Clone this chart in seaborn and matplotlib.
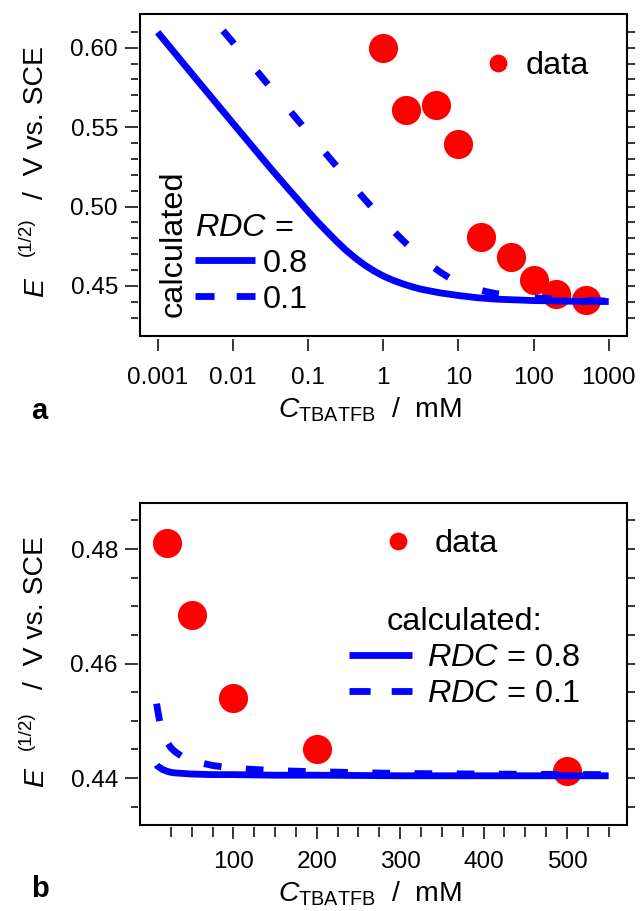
import matplotlib
matplotlib.use("Agg")
import matplotlib.pyplot as plt
import seaborn as sns
from matplotlib.lines import Line2D
from matplotlib.patches import Rectangle
from matplotlib.ticker import NullLocator

# ---------------- data ----------------
conc_data = [1, 2, 5, 10, 20, 50, 100, 200, 500]
e_data = [0.6000, 0.5608, 0.5641, 0.5392, 0.4811, 0.4685, 0.4540, 0.4451, 0.4413]

conc_calc_08 = [0.001, 0.00316, 0.01, 0.0178, 0.0316, 0.0562, 0.1, 0.133, 0.178, 0.237,
                0.316, 0.422, 0.562, 0.750, 1.0, 1.33, 1.78, 2.37, 3.16, 5.62,
                10.0, 17.8, 31.6, 100.0, 316.0, 1000.0]
e_calc_08 = [0.6097, 0.5810, 0.5525, 0.5383, 0.5242, 0.5105, 0.4970, 0.4905, 0.4843, 0.4783,
             0.4727, 0.4677, 0.4633, 0.4595, 0.4563, 0.4537, 0.4515, 0.4496, 0.4480, 0.4457,
             0.4440, 0.4426, 0.4417, 0.4408, 0.4404, 0.4402]

conc_calc_01 = [0.0074, 0.01, 0.0178, 0.0316, 0.0562, 0.1, 0.178, 0.316, 0.562, 1.0,
                1.33, 1.78, 2.37, 3.16, 4.22, 5.62, 7.50, 10.0, 13.3, 17.8,
                23.7, 31.6, 56.2, 100.0, 316.0, 1000.0]
e_calc_01 = [0.6107, 0.6034, 0.5892, 0.5750, 0.5608, 0.5467, 0.5326, 0.5186, 0.5048, 0.4915,
             0.4852, 0.4792, 0.4735, 0.4682, 0.4634, 0.4590, 0.4552, 0.4523, 0.4498, 0.4479,
             0.4464, 0.4452, 0.4436, 0.4425, 0.4412, 0.4405]

conc_b = [8, 9, 10, 12, 15, 20, 25, 30, 40, 50, 75, 100, 150, 200, 300, 400, 550]
e_b_08 = [0.4423, 0.4421, 0.4420, 0.4418, 0.4415, 0.4412, 0.4410, 0.4409, 0.4408, 0.4407,
          0.4406, 0.4406, 0.4405, 0.4405, 0.4404, 0.4404, 0.4404]
e_b_01 = [0.4530, 0.4520, 0.4512, 0.4496, 0.4481, 0.4464, 0.4453, 0.4446, 0.4436, 0.4430,
          0.4422, 0.4417, 0.4413, 0.4411, 0.4408, 0.4407, 0.4406]

xticks_a = [0.001, 0.01, 0.1, 1, 10, 100, 1000]
xticklabels_a = ["0.001", "0.01", "0.1", "1", "10", "100", "1000"]
yticks_a = [0.45, 0.50, 0.55, 0.60]
yticklabels_a = ["0.45", "0.50", "0.55", "0.60"]
yminor_a = [0.43, 0.44, 0.46, 0.47, 0.48, 0.49, 0.51, 0.52, 0.53, 0.54, 0.56, 0.57, 0.58, 0.59, 0.61]

xticks_b = [100, 200, 300, 400, 500]
xticklabels_b = ["100", "200", "300", "400", "500"]
xminor_b = [25, 50, 75, 125, 150, 175, 225, 250, 275, 325, 350, 375, 425, 450, 475, 525, 550]
yticks_b = [0.44, 0.46, 0.48]
yticklabels_b = ["0.44", "0.46", "0.48"]
yminor_b = [0.435, 0.445, 0.45, 0.455, 0.465, 0.47, 0.475, 0.485]

# ---------------- style ----------------
sns.set_style("ticks")
plt.rcParams["font.family"] = ["Liberation Sans", "DejaVu Sans"]
plt.rcParams["mathtext.fontset"] = "custom"
plt.rcParams["mathtext.rm"] = "Liberation Sans"
plt.rcParams["mathtext.it"] = "Liberation Sans:italic"
plt.rcParams["mathtext.bf"] = "Liberation Sans:bold"
for key in ["text.color", "axes.labelcolor", "xtick.color", "ytick.color", "axes.edgecolor"]:
    plt.rcParams[key] = "black"

RED = "#ff0000"
BLUE = "#0000ff"
LW = 4.9
TICK_FS = 17.6
LEG_FS = 23.4
LAB_FS = 20.4
W, H = 640, 911

fig = plt.figure(figsize=(6.4, 9.11), dpi=100)
axA = fig.add_axes([140 / W, 1 - 336 / H, 487 / W, 322 / H])
axB = fig.add_axes([140 / W, 1 - 825 / H, 487 / W, 322.3 / H])


def style_axes(ax, bottom_out, xpad):
    for sp in ax.spines.values():
        sp.set_visible(False)
    ax.spines["left"].set_position(("outward", 1.5))
    ax.spines["bottom"].set_position(("outward", bottom_out))
    ax.add_patch(Rectangle((0, 0), 1, 1, transform=ax.transAxes, fill=False,
                           lw=1.5, ec="black", zorder=6, clip_on=False))
    ax.tick_params(axis="y", which="major", direction="out", length=9.4, width=1.1,
                   labelsize=TICK_FS, pad=5, left=True, right=False, color="black")
    ax.tick_params(axis="y", which="minor", direction="out", length=5.0, width=1.1,
                   left=True, right=False, color="black")
    ax.tick_params(axis="x", which="major", direction="out", length=8.6, width=1.1,
                   labelsize=TICK_FS, pad=xpad, bottom=True, top=False, color="black")
    ax.tick_params(axis="x", which="minor", direction="out", length=7.0, width=1.1,
                   bottom=True, top=False, color="black")


def right_ticks(ax, ticks):
    sec = ax.secondary_yaxis("right")
    sec.set_yticks(ticks)
    sec.yaxis.set_minor_locator(NullLocator())
    sec.tick_params(axis="y", direction="out", length=5.8, width=1.1, labelright=False,
                    color="black")
    for sp in sec.spines.values():
        sp.set_visible(False)


def draw_lines(ax, x08, y08, x01, y01, dash):
    sns.lineplot(x=x08, y=y08, ax=ax, color=BLUE, lw=LW, sort=False,
                 errorbar=None, legend=False, zorder=3)
    ax.lines[-1].set_solid_capstyle("butt")
    ax.lines[-1].set_solid_joinstyle("round")
    sns.lineplot(x=x01, y=y01, ax=ax, color=BLUE, lw=LW, sort=False,
                 errorbar=None, legend=False, zorder=3)
    ax.lines[-1].set_dashes(dash)
    ax.lines[-1].set_dash_capstyle("butt")


# ---------------- panel a ----------------
sns.scatterplot(x=conc_data, y=e_data, ax=axA, color=RED, s=440, linewidth=0,
                zorder=2, legend=False)
draw_lines(axA, conc_calc_08, e_calc_08, conc_calc_01, e_calc_01, [2.5, 5.3])

axA.set_xscale("log")
axA.set_xlim(0.000582, 1750)
axA.set_ylim(0.4185, 0.6212)
axA.set_xticks(xticks_a, xticklabels_a)
axA.xaxis.set_minor_locator(NullLocator())
axA.set_yticks(yticks_a, yticklabels_a)
axA.set_yticks(yminor_a, minor=True)
axA.set_xlabel("")
axA.set_ylabel("")
style_axes(axA, 2.5, 11)
right_ticks(axA, sorted(yticks_a + yminor_a))

solid_proxy = Line2D([], [], color=BLUE, lw=LW, solid_capstyle="butt")
dash_proxy_a = Line2D([], [], color=BLUE, lw=LW, dashes=[2.8, 3.25], dash_capstyle="butt")
dash_proxy_b = Line2D([], [], color=BLUE, lw=LW, dashes=[3.1, 3.1], dash_capstyle="butt")
dot_proxy = Line2D([], [], color=RED, marker="o", ls="none", markersize=12.8, mew=0)

legA_calc = axA.legend(handles=[solid_proxy, dash_proxy_a], labels=["0.8", "0.1"],
                       title=r"$RDC$ =", loc="upper left", bbox_to_anchor=(0.113, 0.382),
                       frameon=False, fontsize=LEG_FS, title_fontsize=LEG_FS,
                       handlelength=1.85, handletextpad=0.22, labelspacing=0.18,
                       borderpad=0, borderaxespad=0, alignment="left")
axA.add_artist(legA_calc)
axA.legend(handles=[dot_proxy], labels=["data"], loc="center left",
           bbox_to_anchor=(0.7156, 0.8375), frameon=False, fontsize=LEG_FS,
           handlelength=0.6, handletextpad=0.55, borderpad=0, borderaxespad=0)

# ---------------- panel b ----------------
sns.scatterplot(x=conc_data, y=e_data, ax=axB, color=RED, s=440, linewidth=0,
                zorder=2, legend=False)
draw_lines(axB, conc_b, e_b_08, conc_b, e_b_01, [2.6, 3.6])

axB.set_xlim(-12, 572)
axB.set_ylim(0.4318, 0.4881)
axB.set_xticks(xticks_b, xticklabels_b)
axB.set_xticks(xminor_b, minor=True)
axB.set_yticks(yticks_b, yticklabels_b)
axB.set_yticks(yminor_b, minor=True)
axB.set_xlabel("")
axB.set_ylabel("")
style_axes(axB, 1.2, 9)
right_ticks(axB, sorted(yticks_b + yminor_b))

legB_calc = axB.legend(handles=[solid_proxy, dash_proxy_b],
                       labels=[r"$RDC$ = 0.8", r"$RDC$ = 0.1"],
                       title="calculated:", loc="upper left", bbox_to_anchor=(0.4292, 0.6756),
                       frameon=False, fontsize=LEG_FS, title_fontsize=LEG_FS,
                       handlelength=1.94, handletextpad=0.45, labelspacing=0.18,
                       borderpad=0, borderaxespad=0)
axB.add_artist(legB_calc)
axB.legend(handles=[dot_proxy], labels=["data"], loc="center left",
           bbox_to_anchor=(0.5103, 0.872), frameon=False, fontsize=LEG_FS,
           handlelength=0.6, handletextpad=0.83, borderpad=0, borderaxespad=0)

# ---------------- text labels ----------------
def ftext(x, y, s, **kw):
    fig.text(x / W, 1 - y / H, s, **kw)

rot = dict(rotation=90, rotation_mode="anchor", ha="left", va="baseline")
for (y_e, y_sup, y_sl) in [(297, 256, 199), (787, 750, 689)]:
    ftext(43, y_e, "E", fontsize=LAB_FS, fontstyle="italic", **rot)
    ftext(31, y_sup, "(1/2)", fontsize=13.5, **rot)
    ftext(43, y_sl, "/  V vs. SCE", fontsize=LAB_FS, **rot)

ftext(182, 317, "calculated", fontsize=LEG_FS, **rot)

ftext(277.6, 417, r"$C_{\mathrm{TBATFB}}$  /  mM", fontsize=LAB_FS, ha="left", va="baseline")
ftext(277.6, 902, r"$C_{\mathrm{TBATFB}}$  /  mM", fontsize=LAB_FS, ha="left", va="baseline")

ftext(31, 419, "a", fontsize=21, fontweight="bold", ha="left", va="baseline")
ftext(31, 897, "b", fontsize=21, fontweight="bold", ha="left", va="baseline")

fig.savefig("out.png", dpi=100)
